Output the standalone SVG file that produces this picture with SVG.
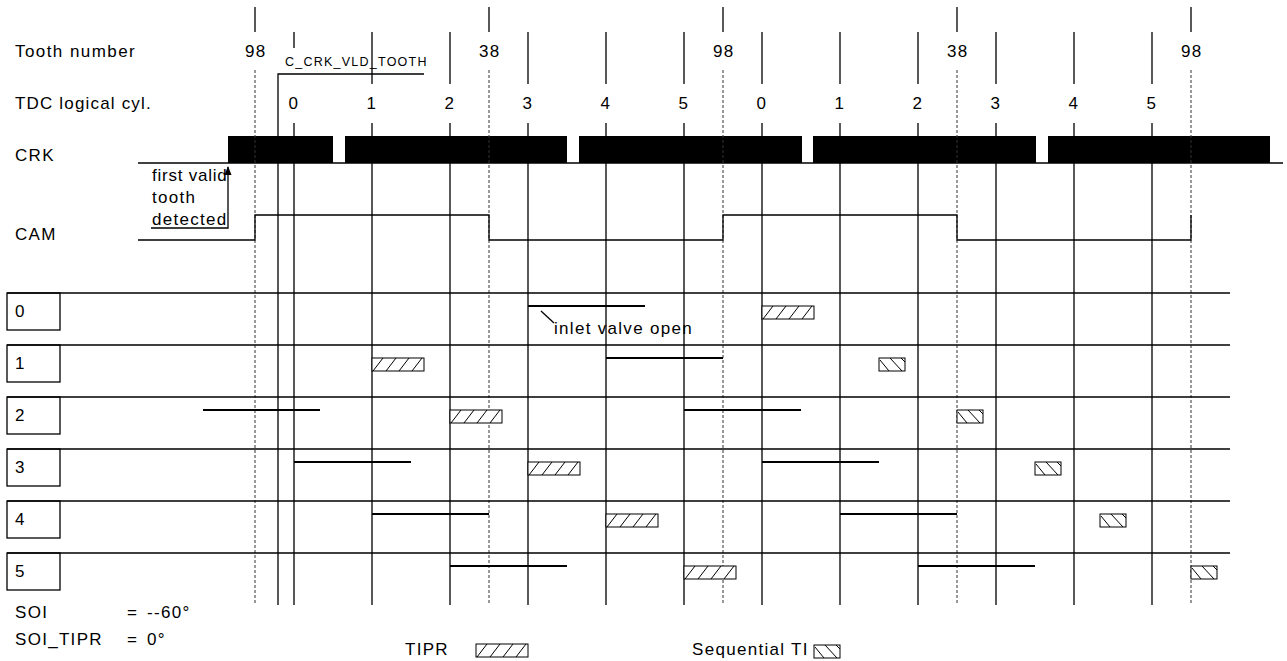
<svg xmlns="http://www.w3.org/2000/svg" width="1287" height="661" viewBox="0 0 1287 661">
<style>
text{font-family:"Liberation Sans",Arial,sans-serif;font-size:17px;fill:#000;letter-spacing:1.3px}
.ln{stroke:#000;stroke-width:1.3;fill:none}
.dash{stroke:#333;stroke-width:1;stroke-dasharray:3,2;fill:none}
.bar{stroke:#000;stroke-width:2.2;fill:none}
.hb{fill:#fff;stroke:#000;stroke-width:1}
.ht{stroke:#000;stroke-width:1}
.mid{text-anchor:middle}
</style>
<defs>
<g id="tipr">
<rect class="hb" x="0" y="0" width="52" height="13"/>
<path class="ht" d="M1,13L11,0M14,13L24,0M27,13L37,0M40,13L50,0"/>
</g>
<g id="seqti">
<rect class="hb" x="0" y="0" width="26" height="13"/>
<path class="ht" d="M1,2L10,13M11,0L23,13M22,0L26,4"/>
</g>
<marker id="arr" markerWidth="9" markerHeight="7" refX="8" refY="3.5" orient="auto" markerUnits="userSpaceOnUse" viewBox="0 0 9 7">
<path d="M0,0L9,3.5L0,7Z" fill="#000"/>
</marker>
</defs>

<g id="labels">
<text x="15" y="57" textLength="121" lengthAdjust="spacing">Tooth number</text>
<text x="15" y="109" textLength="137" lengthAdjust="spacing">TDC logical cyl.</text>
<text x="15" y="161">CRK</text>
<text x="15" y="240">CAM</text>
</g>

<g id="tooth-numbers">
<text x="245" y="57">98</text>
<text x="479" y="57">38</text>
<text x="713" y="57">98</text>
<text x="947" y="57">38</text>
<text x="1181" y="57">98</text>
</g>

<g id="tdc-numbers">
<text class="mid" x="294" y="109">0</text>
<text class="mid" x="372" y="109">1</text>
<text class="mid" x="450" y="109">2</text>
<text class="mid" x="528" y="109">3</text>
<text class="mid" x="606" y="109">4</text>
<text class="mid" x="684" y="109">5</text>
<text class="mid" x="762" y="109">0</text>
<text class="mid" x="840" y="109">1</text>
<text class="mid" x="918" y="109">2</text>
<text class="mid" x="996" y="109">3</text>
<text class="mid" x="1074" y="109">4</text>
<text class="mid" x="1152" y="109">5</text>
</g>

<g id="crk">
<line class="ln" x1="138" y1="163" x2="1283" y2="163"/>
<rect x="228" y="136" width="105" height="27" fill="#000"/>
<rect x="345" y="136" width="222" height="27" fill="#000"/>
<rect x="579" y="136" width="223" height="27" fill="#000"/>
<rect x="813" y="136" width="223" height="27" fill="#000"/>
<rect x="1048" y="136" width="222" height="27" fill="#000"/>
</g>

<g id="connectors">
<path class="ln" d="M255,7V32M489,7V32M723,7V32M957,7V32M1191,7V32"/>
<path class="ln" d="M294,32V48M372,32V84M450,32V84M528,32V84M606,32V84M684,32V84M762,32V84M840,32V84M918,32V84M996,32V84M1074,32V84M1152,32V84"/>
<path class="ln" d="M294,123V605M372,123V605M450,123V605M528,123V605M606,123V605M684,123V605M762,123V605M840,123V605M918,123V605M996,123V605M1074,123V605M1152,123V605"/>
<path class="dash" d="M255,70V605M489,70V605M723,70V605M957,70V605M1191,70V605"/>
<path class="ln" d="M278,605V74H424"/>
<polyline class="ln" points="151,228 228,228 228,167" marker-end="url(#arr)"/>
<polyline class="ln" points="138,240 255,240 255,215 489,215 489,240 723,240 723,215 957,215 957,240 1191,240 1191,215"/>
</g>

<g id="vld-label">
<text x="285" y="66" style="font-size:12.5px;letter-spacing:0.5px" textLength="142" lengthAdjust="spacing">C_CRK_VLD_TOOTH</text>
</g>

<g id="first-valid">
<text x="152" y="181" textLength="76" lengthAdjust="spacing">first valid</text>
<text x="152" y="203">tooth</text>
<text x="152" y="225">detected</text>
</g>

<g id="rows">
<path class="ln" d="M7,293H1230M7,345H1230M7,397H1230M7,449H1230M7,501H1230M7,553H1230"/>
<rect class="ln" x="7" y="293" width="53" height="37"/>
<rect class="ln" x="7" y="345" width="53" height="37"/>
<rect class="ln" x="7" y="397" width="53" height="37"/>
<rect class="ln" x="7" y="449" width="53" height="37"/>
<rect class="ln" x="7" y="501" width="53" height="37"/>
<rect class="ln" x="7" y="553" width="53" height="37"/>
<text x="15" y="317">0</text>
<text x="15" y="369">1</text>
<text x="15" y="421">2</text>
<text x="15" y="473">3</text>
<text x="15" y="525">4</text>
<text x="15" y="577">5</text>
</g>

<g id="valve-bars">
<path class="bar" d="M528,306H645M606,358H723M203,410H320M684,410H801M294,462H411M762,462H879M372,514H489M840,514H957M450,566H567M918,566H1035"/>
<line class="ln" x1="541" y1="311" x2="554" y2="323" stroke-width="1"/>
<text x="554" y="334">inlet valve open</text>
</g>

<g id="tipr-boxes">
<use href="#tipr" x="762" y="306"/>
<use href="#tipr" x="372" y="358"/>
<use href="#tipr" x="450" y="410"/>
<use href="#tipr" x="528" y="462"/>
<use href="#tipr" x="606" y="514"/>
<use href="#tipr" x="684" y="566"/>
</g>

<g id="seqti-boxes">
<use href="#seqti" x="879" y="358"/>
<use href="#seqti" x="957" y="410"/>
<use href="#seqti" x="1035" y="462"/>
<use href="#seqti" x="1100" y="514"/>
<use href="#seqti" x="1191" y="566"/>
</g>

<g id="soi">
<text x="15" y="618">SOI</text>
<text x="127" y="618">=</text>
<text x="147" y="618">--60°</text>
<text x="15" y="645">SOI_TIPR</text>
<text x="127" y="645">=</text>
<text x="147" y="645">0°</text>
</g>

<g id="legend">
<text x="405" y="655">TIPR</text>
<use href="#tipr" x="476" y="644"/>
<text x="692" y="655">Sequential TI</text>
<use href="#seqti" x="814" y="645"/>
</g>
</svg>
